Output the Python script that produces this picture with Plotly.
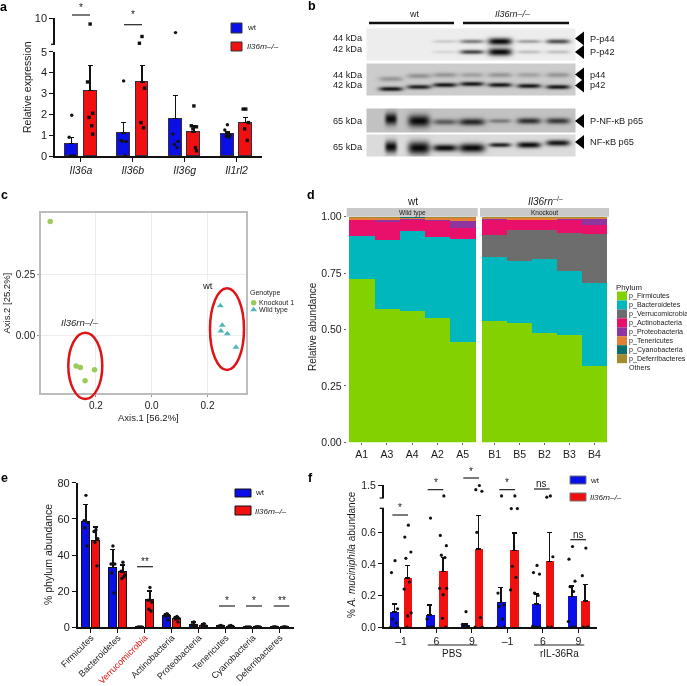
import numpy as np
import plotly.graph_objects as go

W, H = 687, 686
FONT = "Liberation Sans"
BLUE, RED = "#0a0fe6", "#f01010"
INK = "#1a1a1a"

# ---------- panel a ----------
a_genes = ["Il36a", "Il36b", "Il36g", "Il1rl2"]
a_wt = [0.6, 1.1, 1.8, 1.05]
a_ko = [3.15, 3.55, 1.15, 1.62]
a_wt_top = [0.9, 1.6, 2.9, 1.15]
a_ko_top = [4.35, 4.35, 1.45, 1.85]
a_wt_dots = [[1.95, 0.9, 0, 0, 0], [3.6, 0.75, 0.7, 0.7, 0], [7.25, 1.05, 0.7, 0.55, 0.4], [1.5, 1.25, 1.0, 0.95, 0.9]]
a_ko_dots = [[8.9, 3.55, 2.05, 1.85, 1.45, 1.05], [6.5, 5.2, 3.25, 1.6, 1.35], [2.4, 1.45, 1.4, 1.3, 0.4, 0.25], [2.25, 2.25, 1.6, 1.3, 0.75]]

# ---------- panel b ----------
b_lane_x = [390, 418, 444, 471, 499, 528, 557]
b_pp44 = [0, 0, 0.15, 0.5, 1, 0.35, 0.7]
b_pp42 = [0, 0, 0.1, 0.75, 1, 0.2, 0.2]
b_p44 = [0.28, 0.3, 0.28, 0.22, 0.28, 0.22, 0.28]
b_p42 = [0.95, 0.9, 0.95, 0.95, 0.95, 0.95, 0.95]
b_pp65 = [1, 1, 0.55, 0.85, 0.4, 0.8, 0.75]
b_p65 = [1, 1, 1, 1, 0.9, 1, 0.95]

# ---------- panel c ----------
c_ko_x = [-0.364, -0.271, -0.256, -0.205, -0.239]
c_ko_y = [0.464, -0.125, -0.131, -0.14, -0.185]
c_wt_x = [0.246, 0.253, 0.248, 0.271, 0.302]
c_wt_y = [0.121, 0.041, 0.018, 0.007, -0.048]

# ---------- panel d ----------
d_phyla = ["p_Firmicutes", "p_Bacteroidetes", "p_Verrucomicrobia", "p_Actinobacteria", "p_Proteobacteria",
           "p_Tenericutes", "p_Cyanobacteria", "p_Deferribacteres", "Others"]
d_colors = ["#84d100", "#00b7bd", "#6d6d6d", "#e8106a", "#8e35a0", "#e38035", "#0b6f70", "#a68a30", "#ffffff"]
d_wt_samples = ["A1", "A3", "A4", "A2", "A5"]
d_ko_samples = ["B1", "B5", "B2", "B3", "B4"]
d_wt_stack = [
    [0.727, 0.591, 0.585, 0.551, 0.448],
    [0.187, 0.306, 0.353, 0.359, 0.456],
    [0, 0, 0, 0, 0],
    [0.074, 0.079, 0.052, 0.074, 0.049],
    [0.002, 0.012, 0.004, 0.002, 0.031],
    [0.008, 0.010, 0.005, 0.012, 0.014],
    [0.001, 0.001, 0.001, 0.001, 0.001],
    [0.001, 0.001, 0.001, 0.001, 0.001],
]
d_ko_stack = [
    [0.538, 0.532, 0.485, 0.479, 0.340],
    [0.286, 0.273, 0.330, 0.283, 0.366],
    [0.096, 0.139, 0.129, 0.169, 0.220],
    [0.071, 0.044, 0.044, 0.060, 0.040],
    [0.002, 0.002, 0.002, 0.002, 0.027],
    [0.005, 0.008, 0.008, 0.005, 0.005],
    [0.001, 0.001, 0.001, 0.001, 0.001],
    [0.001, 0.001, 0.001, 0.001, 0.001],
]

# ---------- panel e ----------
e_phyla = ["Firmicutes", "Bacteroidetes", "Verrucomicrobia", "Actinobacteria", "Proteobacteria",
           "Tenericutes", "Cyanobacteria", "Deferribacteres"]
e_wt = [58.5, 33, 0.2, 6.5, 1.5, 0.7, 0.2, 0.2]
e_ko = [48, 30.5, 15, 5, 1, 0.5, 0.3, 0.2]
e_wt_top = [68, 43, 0.4, 7.5, 3, 1, 0.3, 0.3]
e_ko_top = [55.5, 34.5, 20, 6, 2, 0.8, 0.4, 0.3]
e_wt_dots = [[73, 59, 58, 55, 45], [45, 35, 35, 30, 19], [0.2, 0.2, 0.2], [7.5, 7, 6.5, 6, 4], [3, 1.5, 1, 0.8, 0.5], [1, 0.8, 0.6, 0.5], [0.2, 0.2, 0.2], [0.3, 0.2, 0.1]]
e_ko_dots = [[54, 53, 49, 47, 34], [36, 31, 29, 27, 28], [22, 15, 14, 10, 9], [6, 5.5, 5, 4.5, 3], [2, 1.2, 0.8, 0.5], [1, 0.7, 0.5, 0.3], [0.4, 0.3, 0.2], [0.3, 0.2, 0.1]]

# ---------- panel f ----------
f_days = ["–1", "6", "9", "–1", "6", "9"]
f_wt = [0.095, 0.075, 0.01, 0.155, 0.145, 0.195]
f_ko = [0.31, 0.35, 0.495, 0.485, 0.415, 0.165]
f_wt_top = [0.145, 0.14, 0.02, 0.25, 0.21, 0.26]
f_ko_top = [0.39, 0.44, 0.705, 0.595, 0.6, 0.27]
f_wt_dots = [[0.42, 0.345, 0.115, 0.05, 0.025, 0, 0], [0.69, 0.05, 0, 0, 0], [0.097, 0.017, 0, 0, 0],
             [1.08, 0.215, 0.14, 0.13, 0.05, 0, 0], [0.39, 0.345, 0.335, 0.215, 0.2, 0.005, 0, 0],
             [0.51, 0.43, 0.29, 0.255, 0.225, 0.035, 0, 0]]
f_ko_dots = [[0.645, 0.57, 0.475, 0.435, 0.285, 0.24, 0.09, 0.07, 0], [1.08, 0.58, 0.515, 0.455, 0.44, 0.245, 0.245, 0.205, 0.055, 0],
             [1.48, 1.32, 1.26, 0.6, 0.06, 0, 0], [1.08, 0.75, 0.75, 0.385, 0.315, 0.235], [1.08, 1.03, 0.445, 0, 0], [0.5, 0.325, 0, 0, 0]]

# ---------- helpers ----------
fig = go.Figure()
layout = dict(width=W, height=H, margin=dict(l=0, r=0, t=0, b=0, pad=0, autoexpand=False), autosize=False, showlegend=False,
              paper_bgcolor="white", plot_bgcolor="rgba(0,0,0,0)", barmode="stack", bargap=0,
              font=dict(family=FONT, color=INK, size=10), hovermode=False)
annotations, shapes = [], []


def dx(px):
    return px / W


def dy(px):
    return 1 - px / H


def text(x, y, s, size=10, anchor="center", rot=0, color=INK):
    annotations.append(dict(x=dx(x), y=dy(y), xref="paper", yref="paper", text=s, showarrow=False,
                            font=dict(size=size, family=FONT, color=color), xanchor=anchor, yanchor="middle",
                            textangle=rot, borderpad=0, borderwidth=0))


def pxshape(kind, x0, y0, x1, y1, fill=None, line=None, lw=0, layer="above"):
    shapes.append(dict(type=kind, xref="paper", yref="paper", x0=dx(x0), x1=dx(x1), y0=dy(y0), y1=dy(y1),
                       fillcolor=fill, line=dict(color=line, width=lw), layer=layer))


def hline(x0, x1, y, lw=1.2, color="#222"):
    pxshape("line", x0, y, x1, y, line=color, lw=lw)


def xax(n, px0, px1, **kw):
    d = dict(domain=[dx(px0), dx(px1)], showgrid=False, zeroline=False, fixedrange=True)
    d.update(kw)
    layout["xaxis" if n == 1 else f"xaxis{n}"] = d


def yax(n, pxtop, pxbot, **kw):
    d = dict(domain=[dy(pxbot), dy(pxtop)], showgrid=False, zeroline=False, fixedrange=True)
    d.update(kw)
    layout["yaxis" if n == 1 else f"yaxis{n}"] = d


BLK = dict(showline=True, linecolor="#111", linewidth=1.5, ticks="outside", tickcolor="#111", tickwidth=1.3,
           ticklen=4)


def grouped(xa, ya, wt, ko, wt_top, ko_top, off, width, edge, edgew=1):
    idx = np.arange(len(wt))
    for vals, tops, sign, col in ((wt, wt_top, -1, BLUE), (ko, ko_top, 1, RED)):
        v, t = np.array(vals), np.array(tops)
        fig.add_trace(go.Bar(x=idx + sign * off, y=v, width=width, xaxis=xa, yaxis=ya,
                             marker=dict(color=col, line=dict(color=edge, width=edgew)),
                             error_y=dict(type="data", array=t - v, arrayminus=[0] * len(v), symmetric=False,
                                          color="#111", thickness=1.4, width=2.5)))


def dots(xa, ya, yupper, groups, off, sign, cut, jit, symbol, size):
    lo_x, lo_y, hi_x, hi_y = [], [], [], []
    for g, vals in enumerate(groups):
        for k, v in enumerate(vals):
            px = g + sign * off + jit[k % len(jit)]
            if v > cut:
                hi_x.append(px)
                hi_y.append(v)
            else:
                lo_x.append(px)
                lo_y.append(v)
    st = dict(mode="markers", marker=dict(color="#111", size=size, symbol=symbol), cliponaxis=False)
    fig.add_trace(go.Scatter(x=lo_x, y=lo_y, xaxis=xa, yaxis=ya, **st))
    if yupper and hi_x:
        fig.add_trace(go.Scatter(x=hi_x, y=hi_y, xaxis=xa, yaxis=yupper, **st))


# ---------- panel a ----------
xax(1, 55, 262, range=[-0.5, 3.49], anchor="y", tickvals=list(range(4)),
    ticktext=[f"<i>{g}</i>" for g in a_genes], tickfont=dict(size=10.5), **BLK)
yax(1, 51.7, 156, range=[0, 5], anchor="x", tickvals=list(range(6)), tickfont=dict(size=11), **BLK)
yax(2, 18.3, 44.3, range=[5, 10], anchor="x", tickvals=[10], tickfont=dict(size=11), **BLK)
hline(51, 55, 44.3, 1.3, "#111")
grouped("x", "y", a_wt, a_ko, a_wt_top, a_ko_top, 0.177, 0.25, "#3a2a40")
jit_a = [0, -0.05, 0.05, -0.02, 0.03, 0.05]
dots("x", "y", "y2", a_wt_dots, 0.177, -1, 5, jit_a, "circle", 3.4)
dots("x", "y", "y2", a_ko_dots, 0.177, 1, 5, jit_a, "square", 3.4)
text(27, 87, "Relative expression", 10.5, rot=-90)
for x0, x1, y, ys in ((72, 90, 15, 8), (124, 142, 24.7, 15)):
    hline(x0, x1, y)
    text((x0 + x1) / 2, ys, "*", 10)
pxshape("rect", 231, 23, 242, 33, fill=BLUE, line="#333", lw=1)
pxshape("rect", 231, 42, 242, 51, fill=RED, line="#333", lw=1)
text(247, 27.5, "wt", 8, "left")
text(247, 47, "<i>Il36rn–/–</i>", 8, "left")

# ---------- panel b (overlay axis in page pixels) ----------
xax(9, 0, W, range=[0, W], visible=False, anchor="y9")
yax(9, 0, H, range=[H, 0], visible=False, anchor="x9")


def blot(x0, x1, y0, y1, bg, bands):
    xs = np.arange(x0, x1 + 1)
    ys = np.arange(y0, y1 + 1)
    X, Y = np.meshgrid(xs, ys)
    z = np.full(X.shape, float(bg))
    dark = np.zeros(X.shape)
    for strengths, yc, half_w, half_h in bands:
        for lane, s in enumerate(strengths):
            cy = yc[lane] if isinstance(yc, (list, tuple)) else yc
            w = half_w[lane] if isinstance(half_w, (list, tuple)) else half_w
            h = half_h[lane] if isinstance(half_h, (list, tuple)) else half_h
            dark += s * np.exp(-((X - b_lane_x[lane]) / w) ** 4) * np.exp(-((Y - cy) / h) ** 2)
    z = z * (1 - np.clip(dark, 0, 1)) + 0.03 * np.clip(dark, 0, 1)
    fig.add_trace(go.Heatmap(x=xs, y=ys, z=z, xaxis="x9", yaxis="y9", zmin=0, zmax=1, showscale=False,
                             colorscale=[[0, "black"], [1, "white"]], zsmooth="best", hoverinfo="skip"))


WID = [6, 11, 12, 13, 11, 12, 12]
blot(367, 575, 29, 60, 0.93, [(b_pp44, 40.5, 12, [2, 2, 1.6, 2, 3.5, 1.8, 2.3]),
                              (b_pp42, 51, 12, [2, 2, 1.6, 2.2, 3.8, 1.8, 1.8])])
blot(367, 575, 64, 95, 0.80, [(b_p44, [78, 75, 74, 74, 74, 74, 74], 12, 2.5),
                              (b_p42, [88, 86, 84, 83, 84, 85, 86], 12, 2.2)])
blot(367, 575, 109, 132, 0.76, [(b_pp65, [118, 120, 121, 121, 120, 120, 120], WID, [6, 6, 3, 3.5, 2.2, 3, 3])])
blot(367, 575, 135, 156, 0.86, [(b_p65, [146, 147, 147, 147, 144, 144, 142], WID, [6, 6.5, 3.5, 4.5, 2.2, 3, 3])])
hline(369, 454, 23, 2.5, "#111")
hline(463, 569, 23, 2.5, "#111")
text(414, 14, "wt", 9)
text(513, 14, "<i>Il36rn–/–</i>", 9)
for y, s in ((38, "44 kDa"), (49, "42 kDa"), (74.5, "44 kDa"), (85.5, "42 kDa"), (121, "65 kDa"), (147, "65 kDa")):
    text(363, y, s, 9.2, "right")
b_lab = ["P-p44", "P-p42", "p44", "p42", "P-NF-κB p65", "NF-κB p65"]
b_lab_y = [38.5, 52, 74.5, 85.5, 121, 142]
fig.add_trace(go.Scatter(x=[581] * 6, y=b_lab_y, xaxis="x9", yaxis="y9", mode="markers",
                         marker=dict(symbol="triangle-left", size=12, color="black")))
for y, s in zip(b_lab_y, b_lab):
    text(590, y, s, 9.2, "left")

# ---------- panel c ----------
c_frame = dict(showline=True, mirror=True, linecolor="#bdbdbd", linewidth=1.5, showgrid=True, gridcolor="#ededed",
               gridwidth=1, ticks="outside", ticklen=2, tickcolor="#999", tickfont=dict(size=10))
xax(3, 41, 246, range=[-0.397, 0.338], anchor="y3", tickvals=[-0.2, 0, 0.2], ticktext=["0.2", "0.0", "0.2"], **c_frame)
yax(3, 213, 393, range=[-0.235, 0.499], anchor="x3", tickvals=[0, 0.25], ticktext=["0.00", "0.25"], **c_frame)
fig.add_trace(go.Scatter(x=c_ko_x, y=c_ko_y, xaxis="x3", yaxis="y3", mode="markers",
                         marker=dict(color="#9ccb5a", size=5.5)))
fig.add_trace(go.Scatter(x=c_wt_x, y=c_wt_y, xaxis="x3", yaxis="y3", mode="markers",
                         marker=dict(color="#4fb6bd", size=6, symbol="triangle-up")))
pxshape("circle", 68.3, 332.7, 102.3, 399, line="#dd1418", lw=2.5)
pxshape("circle", 210, 288.3, 244, 370, line="#dd1418", lw=2.5)
text(148, 417, "Axis.1 [56.2%]", 9.5)
text(5.5, 303, "Axis.2 [25.2%]", 9.5, rot=-90)
text(207, 285, "wt", 9.5)
text(80, 322, "<i>Il36rn–/–</i>", 9.5)
text(250, 293, "Genotype", 7, "left")
text(259, 302.7, "Knockout 1", 7, "left")
text(259, 310, "Wild type", 7, "left")
fig.add_trace(go.Scatter(x=[253.7], y=[302.7], xaxis="x9", yaxis="y9", mode="markers",
                         marker=dict(color="#9ccb5a", size=5.5)))
fig.add_trace(go.Scatter(x=[253.7], y=[309.7], xaxis="x9", yaxis="y9", mode="markers",
                         marker=dict(color="#4fb6bd", size=6, symbol="triangle-up")))

# ---------- panel d ----------
d_tick = dict(ticks="outside", ticklen=2, tickcolor="#666", tickwidth=1, tickfont=dict(size=10.5), showline=False)
xax(4, 346.7, 477.7, range=[0.41, 5.59], anchor="y4", tickvals=list(range(1, 6)), ticktext=d_wt_samples, **d_tick)
xax(5, 480, 609, range=[0.41, 5.59], anchor="y5", tickvals=list(range(1, 6)), ticktext=d_ko_samples, **d_tick)
yax(4, 216.7, 442.3, range=[0, 1], anchor="x4", tickvals=[0, 0.25, 0.5, 0.75, 1],
    ticktext=["0.00", "0.25", "0.50", "0.75", "1.00"], **d_tick)
yax(5, 216.7, 442.3, range=[0, 1], anchor="x5", showticklabels=False, ticks="")
for xa, ya, stack in (("x4", "y4", d_wt_stack), ("x5", "y5", d_ko_stack)):
    for vals, col in zip(stack, d_colors):
        fig.add_trace(go.Bar(x=list(range(1, 6)), y=vals, width=1, xaxis=xa, yaxis=ya,
                             marker=dict(color=col, line=dict(width=0))))
pxshape("rect", 346.7, 208, 477.7, 216.7, fill="#c9c9c9")
pxshape("rect", 480, 208, 609, 216.7, fill="#c9c9c9")
text(412, 212.7, "Wild type", 6.5)
text(544.5, 212.7, "Knockout", 6.5)
text(412, 201, "wt", 10)
text(545, 201, "<i>Il36rn</i><sup>–/–</sup>", 10)
text(312, 327, "Relative abundance", 10, rot=-90)
text(616, 287, "Phylum", 7.8, "left")
for i, (name, col) in enumerate(zip(d_phyla, d_colors)):
    y = 296 + i * 8.95
    if col != "#ffffff":
        pxshape("rect", 617, y - 4.5, 627, y + 4.5, fill=col)
    text(629, y, name, 7.1, "left")

# ---------- panel e ----------
xax(6, 77.7, 294, range=[-0.49, 7.52], anchor="y6", tickvals=list(range(8)), tickangle=-45, tickfont=dict(size=9),
    ticklabelstandoff=-4,
    ticktext=[f'<span style="color:#e01010">{p}</span>' if p == "Verrucomicrobia" else p for p in e_phyla], **BLK)
yax(6, 482.7, 627.3, range=[0, 80], anchor="x6", tickvals=[0, 20, 40, 60, 80], tickfont=dict(size=11), **BLK)
grouped("x6", "y6", e_wt, e_ko, e_wt_top, e_ko_top, 0.185, 0.29, "#111", 1.1)
jit_e = [0, -0.07, 0.07, -0.04, 0.04]
dots("x6", "y6", None, e_wt_dots, 0.185, -1, 999, jit_e, "circle", 3.4)
dots("x6", "y6", None, e_ko_dots, 0.185, 1, 999, jit_e, "circle", 3.4)
text(48, 555, "% phylum abundance", 10.5, rot=-90)
for x0, x1, y, s in ((137, 153, 566.7, "**"), (219, 235, 606, "*"), (246, 262, 606, "*"), (273.7, 289.3, 606, "**")):
    hline(x0, x1, y)
    text((x0 + x1) / 2, y - 5.5, s, 10)
pxshape("rect", 235, 489, 251, 497, fill=BLUE, line="#111", lw=1)
pxshape("rect", 235, 506, 251, 515, fill=RED, line="#111", lw=1)
text(255, 492, "wt", 8, "left")
text(255, 511, "<i>Il36rn–/–</i>", 8, "left")

# ---------- panel f ----------
xax(7, 383.7, 597.3, range=[-0.487, 5.53], anchor="y7", tickvals=list(range(6)), ticktext=f_days,
    tickfont=dict(size=10.5), **BLK)
yax(7, 508.3, 627, range=[0, 0.752], anchor="x7", tickvals=[0, 0.2, 0.4, 0.6],
    ticktext=["0.0", "0.2", "0.4", "0.6"], tickfont=dict(size=10.5), **BLK)
yax(8, 485, 498, range=[1.0, 1.5], anchor="x7", tickvals=[1.5], ticktext=["1.5"], tickfont=dict(size=10.5), **BLK)
hline(379.7, 383.7, 498, 1.3, "#111")
hline(379.7, 383.7, 508.3, 1.3, "#111")
grouped("x7", "y7", f_wt, f_ko, f_wt_top, f_ko_top, 0.188, 0.25, "rgba(0,0,0,0)", 0)
jit_f = [0.02, -0.08, 0.09, -0.05, 0.05, -0.1, 0.1, 0, -0.02, 0.07]
dots("x7", "y7", "y8", f_wt_dots, 0.188, -1, 0.8, jit_f, "circle", 3.2)
dots("x7", "y7", "y8", f_ko_dots, 0.188, 1, 0.8, jit_f, "circle", 3.2)
text(351, 555, "% <i>A. muciniphila</i> abundance", 10, rot=-90)
f_sig = [(157, 204, 150, "*", 128), (263, 310, 74, "*", 53), (370, 417, 39, "*", 18),
         (478, 525, 74, "*", 53), (582, 629, 72, "ns", 55), (691, 738, 224, "ns", 207)]
for X0, X1, Y, s, Ys in f_sig:
    hline(340 + X0 / 3, 340 + X1 / 3, 465 + Y / 3)
    text(340 + (X0 + X1) / 6, 465 + Ys / 3, s, 10)
hline(427.7, 477.3, 645, 1)
hline(534, 584.3, 645, 1)
text(452, 653.3, "PBS", 10)
text(559, 653.3, "rIL-36Ra", 10)
pxshape("rect", 570, 476, 586, 484, fill=BLUE, line="#777", lw=1)
pxshape("rect", 570, 493, 586, 501, fill=RED, line="#777", lw=1)
text(590, 480, "wt", 8, "left")
text(590, 497, "<i>Il36rn–/–</i>", 8, "left")

# ---------- panel letters ----------
for x, y, s in ((4, 7, "a"), (312, 6, "b"), (4, 195, "c"), (311, 195, "d"), (4, 478, "e"), (310, 478, "f")):
    text(x, y, f"<b>{s}</b>", 12.5, "center", color="#000")

layout["annotations"] = annotations
layout["shapes"] = shapes
fig.update_layout(**layout)
fig.write_html("out.html", config={"displayModeBar": False},
               post_script="document.body.style.margin='0';document.documentElement.style.overflow='hidden';document.body.style.filter='blur(0.35px)';")
